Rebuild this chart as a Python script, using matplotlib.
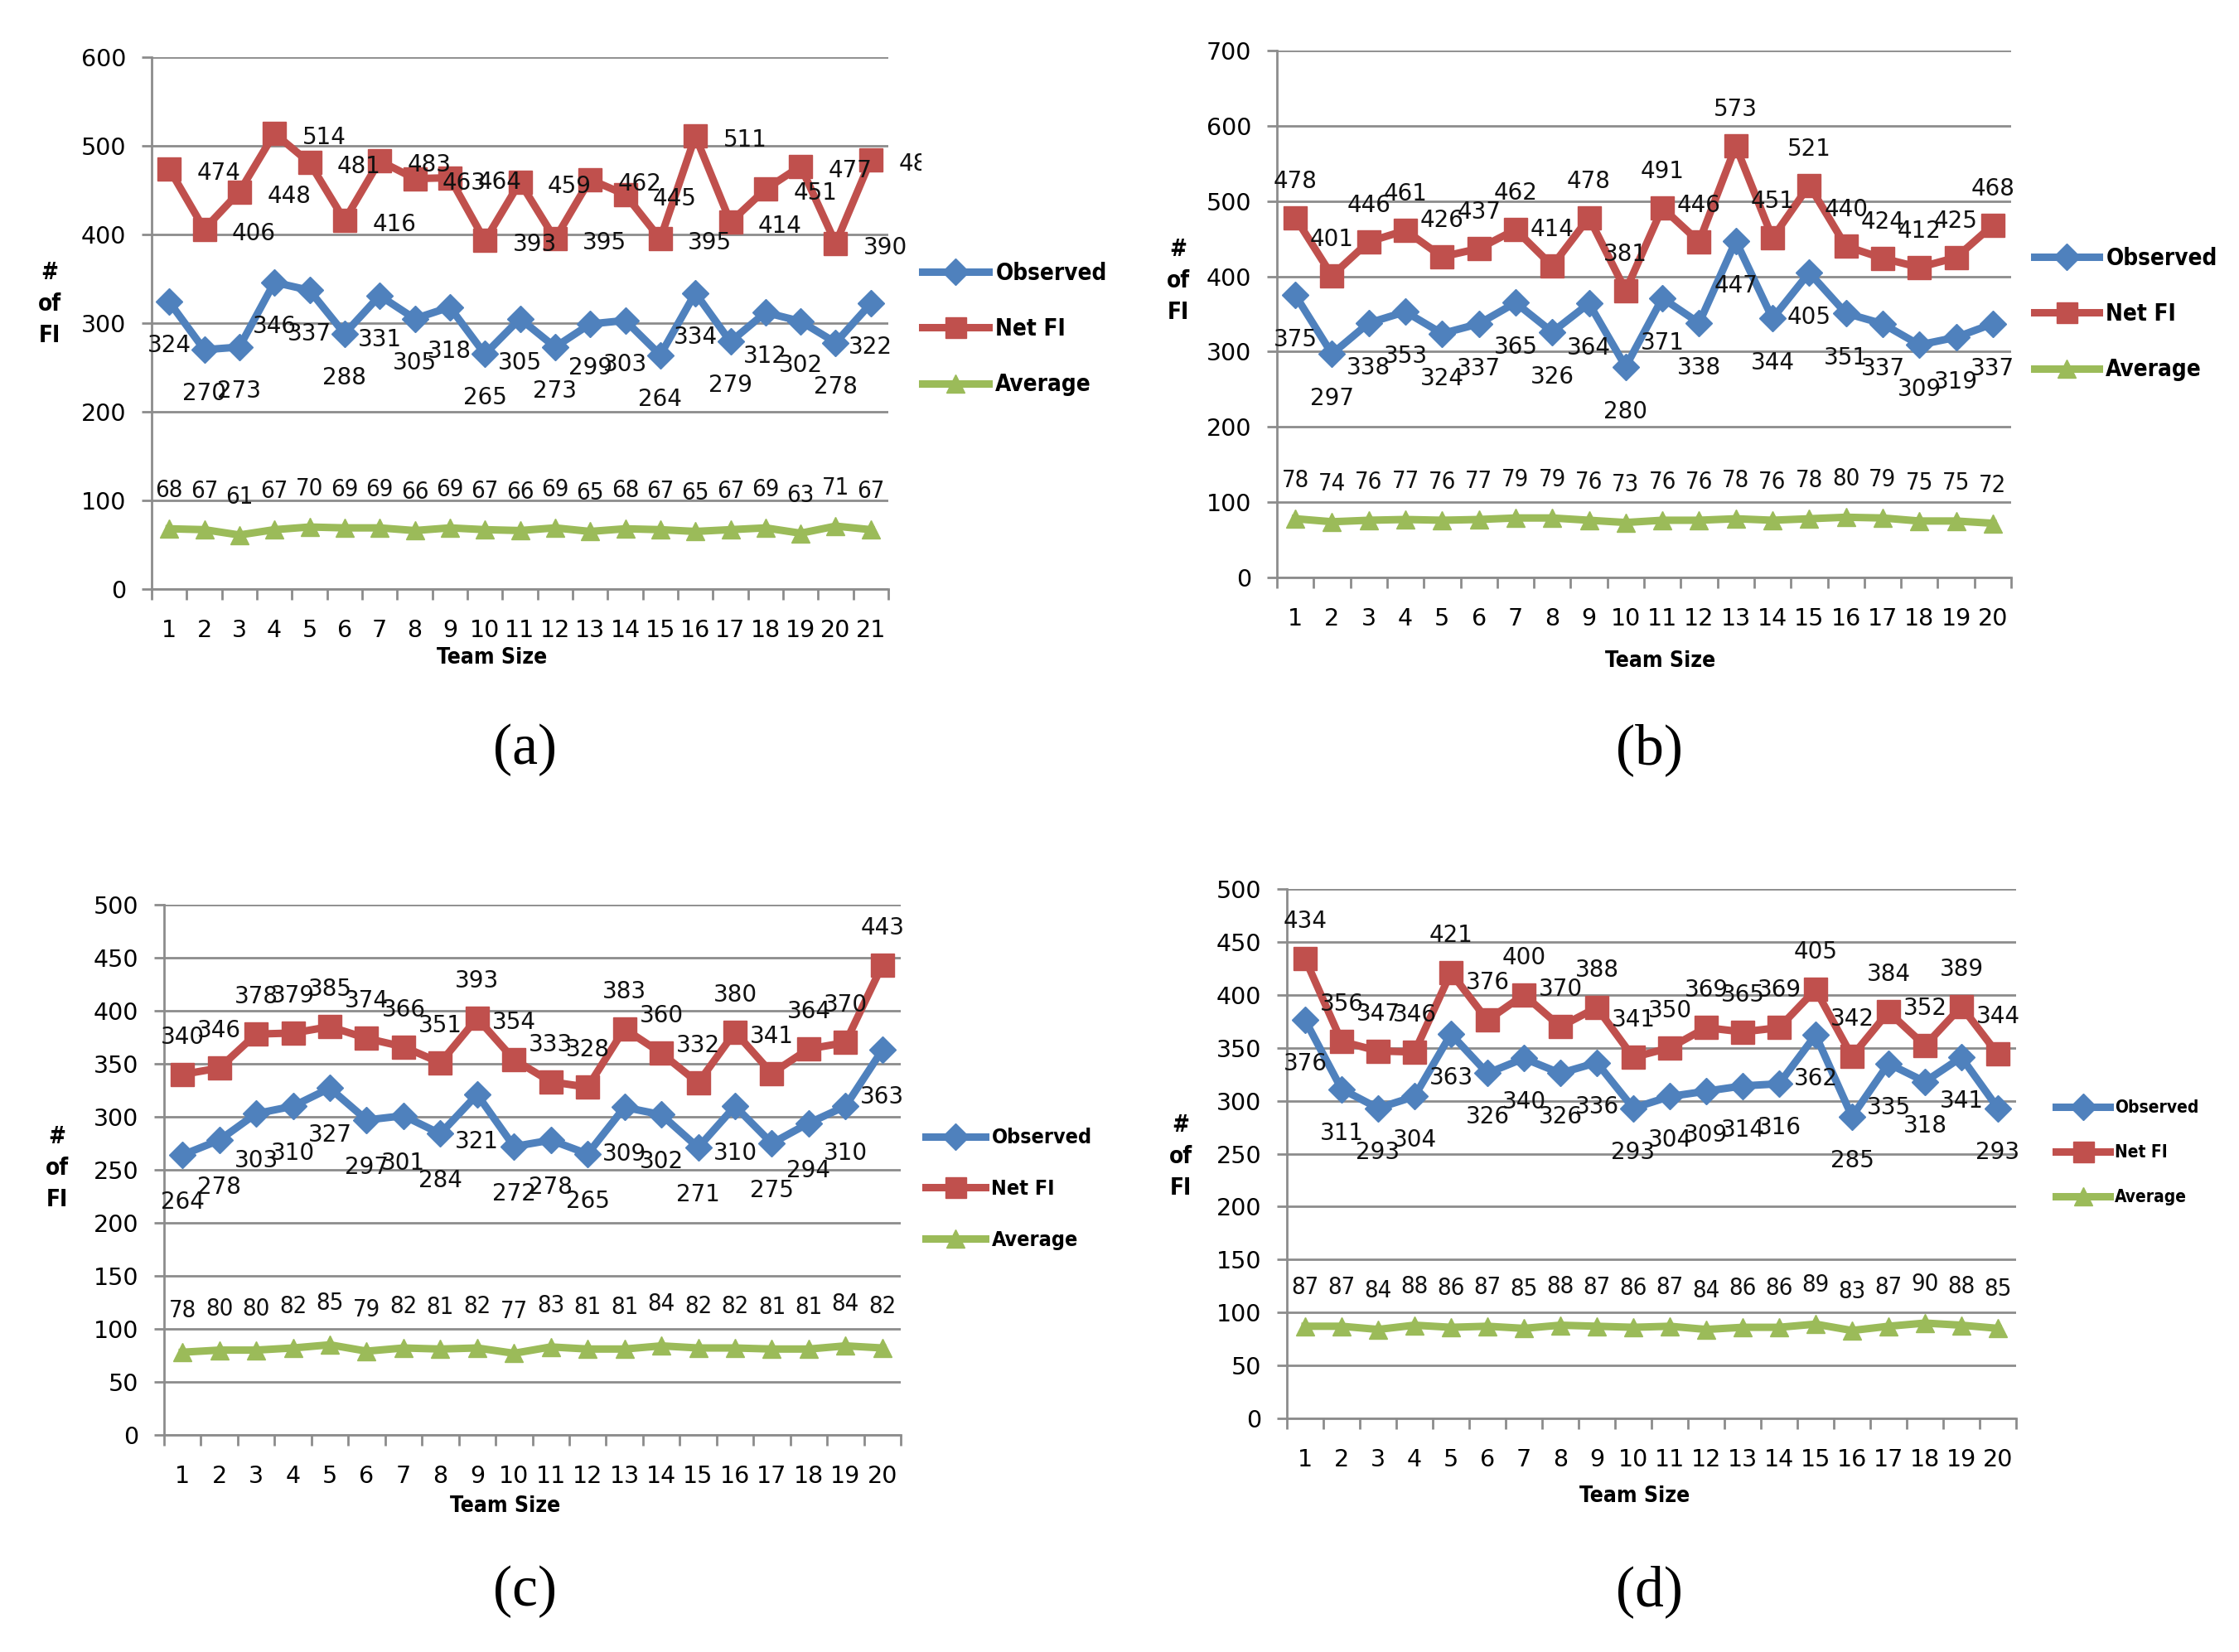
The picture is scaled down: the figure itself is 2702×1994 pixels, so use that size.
import matplotlib.pyplot as plt
from matplotlib import font_manager
from matplotlib.lines import Line2D
from matplotlib.transforms import Bbox, TransformedBbox

# ---- data ----
obs_a = [324, 270, 273, 346, 337, 288, 331, 305, 318, 265, 305, 273, 299, 303, 264, 334, 279, 312, 302, 278, 322]
net_a = [474, 406, 448, 514, 481, 416, 483, 463, 464, 393, 459, 395, 462, 445, 395, 511, 414, 451, 477, 390, 484]
avg_a = [68, 67, 61, 67, 70, 69, 69, 66, 69, 67, 66, 69, 65, 68, 67, 65, 67, 69, 63, 71, 67]

obs_b = [375, 297, 338, 353, 324, 337, 365, 326, 364, 280, 371, 338, 447, 344, 405, 351, 337, 309, 319, 337]
net_b = [478, 401, 446, 461, 426, 437, 462, 414, 478, 381, 491, 446, 573, 451, 521, 440, 424, 412, 425, 468]
avg_b = [78, 74, 76, 77, 76, 77, 79, 79, 76, 73, 76, 76, 78, 76, 78, 80, 79, 75, 75, 72]

obs_c = [264, 278, 303, 310, 327, 297, 301, 284, 321, 272, 278, 265, 309, 302, 271, 310, 275, 294, 310, 363]
net_c = [340, 346, 378, 379, 385, 374, 366, 351, 393, 354, 333, 328, 383, 360, 332, 380, 341, 364, 370, 443]
avg_c = [78, 80, 80, 82, 85, 79, 82, 81, 82, 77, 83, 81, 81, 84, 82, 82, 81, 81, 84, 82]

obs_d = [376, 311, 293, 304, 363, 326, 340, 326, 336, 293, 304, 309, 314, 316, 362, 285, 335, 318, 341, 293]
net_d = [434, 356, 347, 346, 421, 376, 400, 370, 388, 341, 350, 369, 365, 369, 405, 342, 384, 352, 389, 344]
avg_d = [87, 87, 84, 88, 86, 87, 85, 88, 87, 86, 87, 84, 86, 86, 89, 83, 87, 90, 88, 85]

series_names = ["Observed", "Net FI", "Average"]
captions = ["(a)", "(b)", "(c)", "(d)"]

BLUE, RED, GREEN = "#4F81BD", "#C0504D", "#9BBB59"
GRID = "#8C8C8C"
W, H = 2702, 1994

# a narrow bold face for the Excel-style legend / axis titles, if one is installed
fonts = font_manager.fontManager.ttflist
names = {f.name for f in fonts}
if "Liberation Sans Narrow" in names:
    NARROW = {"family": "Liberation Sans Narrow"}
elif any(f.name == "DejaVu Sans" and f.stretch == "condensed" for f in fonts):
    NARROW = {"family": "DejaVu Sans", "stretch": "condensed"}
else:
    NARROW = {"family": "Roboto"} if "Roboto" in names else {"family": "DejaVu Sans"}

fig = plt.figure(figsize=(W / 100, H / 100), dpi=100)
fig.patch.set_facecolor("white")


def fx(x):
    return x / W


def fy(y):
    return 1 - y / H


def draw_panel(obs, net, avg, ymax, ystep, box, net_off, obs_off, avg_off,
               xlab, ylab, cap, leg, clip_right=None):
    left, top, right, bottom = box
    ax = fig.add_axes([fx(left), fy(bottom), fx(right - left), (bottom - top) / H])
    n = len(obs)
    xs = list(range(1, n + 1))
    ax.plot(xs, obs, color=BLUE, lw=6.5, marker="D", ms=16, zorder=3)
    ax.plot(xs, net, color=RED, lw=6.5, marker="s", ms=20, zorder=3)
    ax.plot(xs, avg, color=GREEN, lw=6.5, marker="^", ms=16, zorder=3)

    ax.set_xlim(0.5, n + 0.5)
    ax.set_ylim(0, ymax)
    ax.set_yticks(range(0, ymax + 1, ystep))
    ax.set_xticks(xs)
    ax.set_xticks([i + 0.5 for i in range(n + 1)], minor=True)
    ax.grid(axis="y", color=GRID, lw=2)
    ax.set_axisbelow(True)
    for s in ["top", "right"]:
        ax.spines[s].set_visible(False)
    for s in ["left", "bottom"]:
        ax.spines[s].set_color(GRID)
        ax.spines[s].set_linewidth(2)
    ax.tick_params(axis="y", length=9, width=2, color=GRID, pad=13, labelsize=20.5)
    ax.tick_params(axis="x", which="major", length=0, pad=26, labelsize=20.5)
    ax.tick_params(axis="x", which="minor", length=9, width=2, color=GRID)

    for x, v in zip(xs, net):
        t = ax.annotate(str(v), (x, v), xytext=net_off, textcoords="offset pixels",
                        ha="center", va="center", fontsize=20, color="#111111", zorder=5)
        if clip_right is not None:
            t.set_clip_box(TransformedBbox(Bbox([[-0.2, -0.2], [clip_right, 1.2]]), ax.transAxes))
            t.set_clip_on(True)
    for x, v in zip(xs, obs):
        ax.annotate(str(v), (x, v), xytext=obs_off, textcoords="offset pixels",
                    ha="center", va="center", fontsize=20, color="#111111", zorder=5)
    for x, v in zip(xs, avg):
        ax.annotate(str(v), (x, v), xytext=avg_off, textcoords="offset pixels",
                    ha="center", va="center", fontsize=21, color="#111111", zorder=5,
                    **NARROW)

    fig.text(fx(xlab[0]), fy(xlab[1]), "Team Size", ha="center", va="center",
             fontsize=19, fontweight="bold", **NARROW)
    fig.text(fx(ylab[0]), fy(ylab[1]), "#\nof\nFI", ha="center", va="center",
             fontsize=20, fontweight="bold", linespacing=1.45, **NARROW)
    fig.text(fx(cap[0]), fy(cap[1]), cap[2], ha="center", va="center",
             fontsize=50, family="Liberation Serif")

    hx, hy, hlen, fs, spacing = leg
    handles = [Line2D([], [], color=BLUE, lw=6.5, marker="D", ms=16),
               Line2D([], [], color=RED, lw=6.5, marker="s", ms=18),
               Line2D([], [], color=GREEN, lw=6.5, marker="^", ms=16)]
    fspx = fs * 100 / 72
    prop = {"weight": "bold", "size": fs}
    prop.update(NARROW)
    ax.legend(handles, series_names, loc="center left", bbox_to_anchor=(fx(hx), fy(hy)),
              bbox_transform=fig.transFigure, frameon=False, borderpad=0, borderaxespad=0,
              handlelength=hlen / fspx, handletextpad=0.3, numpoints=1,
              labelspacing=(spacing - 1.25 * fspx) / fspx, prop=prop)
    return ax


draw_panel(obs_a, net_a, avg_a, 600, 100, (183, 69, 1072, 711),
           (60, -5), (0, -53), (0, 46),
           (594, 794), (60, 367), (634, 905, captions[0]),
           (1113, 397, 80, 20, 74), clip_right=1.045)
draw_panel(obs_b, net_b, avg_b, 700, 100, (1541, 61, 2427, 697),
           (0, 44), (0, -54), (0, 46),
           (2004, 798), (1422, 339), (1990, 905, captions[1]),
           (2455, 379, 78, 20, 74))
draw_panel(obs_c, net_c, avg_c, 500, 50, (198, 1092, 1087, 1732),
           (0, 45), (0, -57), (0, 50),
           (610, 1818), (69, 1410), (634, 1921, captions[2]),
           (1117, 1435, 72, 18, 69))
draw_panel(obs_d, net_d, avg_d, 500, 50, (1553, 1073, 2433, 1712),
           (0, 45), (0, -53), (0, 47),
           (1973, 1806), (1425, 1396), (1990, 1921, captions[3]),
           (2481, 1391, 65, 15, 60))

fig.savefig("out.png", dpi=100)
